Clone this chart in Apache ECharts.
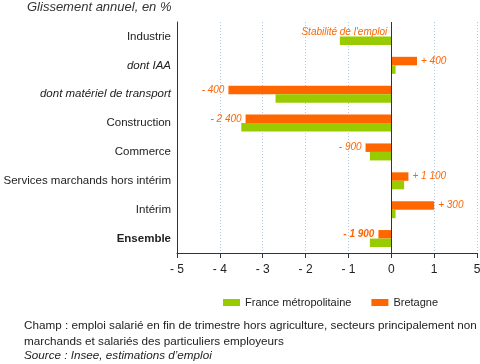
<!DOCTYPE html>
<html><head><meta charset="utf-8">
<script src="https://cdn.jsdelivr.net/npm/echarts@6/dist/echarts.min.js"></script>
<style>html,body{margin:0;padding:0;background:#fff}#c{width:480px;height:364px}</style>
</head><body><div id="c"></div>
<script>
var categories = ["Industrie","dont IAA","dont matériel de transport","Construction","Commerce","Services marchands hors intérim","Intérim","Ensemble"];
var bretagne = [0, 0.6, -3.8, -3.4, -0.6, 0.4, 1.0, -0.3];
var france = [-1.2, 0.1, -2.7, -3.5, -0.5, 0.3, 0.1, -0.5];
var bretagneLabels = ["Stabilité de l'emploi","+ 400","- 400","- 2 400","- 900","+ 1 100","+ 300","- 1 900"];
var tickLabels = {"-5":"- 5","-4":"- 4","-3":"- 3","-2":"- 2","-1":"- 1","0":"0","1":"1","2":"5"};
var titleText = "Glissement annuel, en %";
var footerLines = ["Champ : emploi salarié en fin de trimestre hors agriculture, secteurs principalement non","marchands et salariés des particuliers employeurs"];
var sourceText = "Source : Insee, estimations d’emploi";

var FONT = "'Liberation Sans', Arial, sans-serif";
var chart = echarts.init(document.getElementById('c'), null, {renderer:'canvas'});

var italicCats = {"dont IAA":1,"dont matériel de transport":1};
var boldCats = {"Ensemble":1};

var bData = bretagne.map(function(v,i){
  var item = {value:v, label:{}};
  item.label.position = v <= 0 ? 'left' : 'right';
  if (categories[i] === 'Ensemble') item.label.fontWeight = 'bold';
  return item;
});

chart.setOption({
  animation:false,
  textStyle:{fontFamily:FONT},
  grid:{left:177,right:3,top:22,bottom:111,containLabel:false,outerBoundsMode:'none'},
  legend:{
    data:['France métropolitaine','Bretagne'],
    left:218, top:292, itemWidth:17, itemHeight:7, itemGap:20,
    icon:'rect',
    textStyle:{fontFamily:FONT,fontSize:11,color:'#222'}
  },
  graphic:[
    {type:'text',left:27,top:1,style:{text:titleText,font:'italic 13px '+FONT,fill:'#333'}},
    {type:'text',left:24,top:318,style:{text:footerLines.join('\n'),font:'11.7px '+FONT,fill:'#222',lineHeight:16}},
    {type:'text',left:24,top:350,style:{text:sourceText,font:'italic 11.7px '+FONT,fill:'#222'}}
  ],
  xAxis:{
    type:'value',min:-5,max:2,interval:1,
    axisLine:{show:true,onZero:false,lineStyle:{color:'#333',width:1}},
    axisTick:{show:true,length:5,lineStyle:{color:'#333'}},
    axisLabel:{fontSize:12,color:'#222',margin:11,fontFamily:FONT,
      formatter:function(v){return tickLabels[String(v)];}},
    splitLine:{show:true,lineStyle:{color:'#b4c8e6',type:[1,2],width:1}}
  },
  yAxis:{
    type:'category',data:categories,inverse:true,
    axisLine:{show:true,onZero:false,lineStyle:{color:'#333',width:1}},
    axisTick:{show:false},
    axisLabel:{margin:6,fontSize:11.5,color:'#222',fontFamily:FONT,
      formatter:function(v){
        if(italicCats[v]) return '{i|'+v+'}';
        if(boldCats[v]) return '{b|'+v+'}';
        return v;
      },
      rich:{i:{fontStyle:'italic',fontSize:11.5,color:'#222',fontFamily:FONT},
            b:{fontWeight:'bold',fontSize:11.5,color:'#222',fontFamily:FONT}}
    },
    splitLine:{show:false}
  },
  series:[
    {name:'Bretagne',type:'bar',data:bData,barWidth:8.5,barGap:'0%',
     itemStyle:{color:'#FF6600'},
     label:{show:true,distance:4,color:'#FF6600',fontStyle:'italic',fontSize:10,fontFamily:FONT,
       formatter:function(p){return bretagneLabels[p.dataIndex];}},
     markLine:{silent:true,symbol:'none',animation:false,label:{show:false},
       lineStyle:{color:'#333',type:'solid',width:1},data:[{xAxis:0}]}
    },
    {name:'France métropolitaine',type:'bar',data:france,barWidth:8.5,barGap:'0%',
     itemStyle:{color:'#99CC00'}}
  ]
});
</script></body></html>
